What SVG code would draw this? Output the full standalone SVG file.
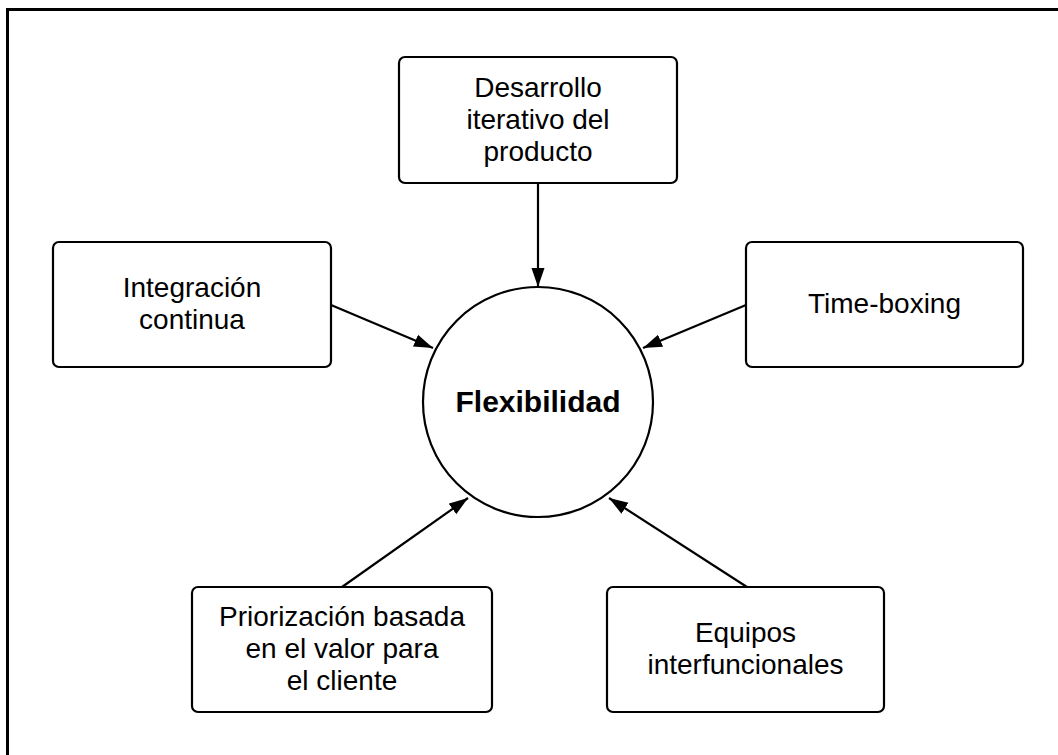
<svg xmlns="http://www.w3.org/2000/svg" width="1058" height="755" viewBox="0 0 1058 755">
  <style>
    .box { fill: #ffffff; stroke: #000000; stroke-width: 2.2; }
    .lbl { font-family: "Liberation Sans", Arial, sans-serif; font-size: 28px; fill: #000000; text-anchor: middle; }
    .title { font-family: "Liberation Sans", Arial, sans-serif; font-size: 30px; font-weight: bold; fill: #000000; text-anchor: middle; }
    .edge { stroke: #000000; stroke-width: 2.2; fill: none; marker-end: url(#arrow); }
  </style>
  <defs>
    <marker id="arrow" markerUnits="userSpaceOnUse" markerWidth="20" markerHeight="14" refX="19" refY="7" orient="auto">
      <path d="M0,0.5 L19,7 L0,13.5 Z" fill="#000000"/>
    </marker>
  </defs>
  <rect x="0" y="0" width="1058" height="755" fill="#ffffff"/>
  <rect x="7.5" y="9.5" width="1100" height="800" fill="none" stroke="#000000" stroke-width="3"/>

  <g id="connectors">
    <line class="edge" x1="538" y1="183" x2="538" y2="287"/>
    <line class="edge" x1="331" y1="305" x2="433" y2="348"/>
    <line class="edge" x1="746" y1="305" x2="643" y2="348"/>
    <line class="edge" x1="342" y1="587" x2="468" y2="498"/>
    <line class="edge" x1="747" y1="587" x2="609" y2="498"/>
  </g>

  <g id="center">
    <circle cx="538" cy="402" r="115" fill="#ffffff" stroke="#000000" stroke-width="2.2"/>
    <text class="title" x="538" y="412">Flexibilidad</text>
  </g>

  <g id="desarrollo">
    <rect class="box" x="399" y="57" width="278" height="126" rx="6"/>
    <text class="lbl" x="538" y="97">Desarrollo</text>
    <text class="lbl" x="538" y="129">iterativo del</text>
    <text class="lbl" x="538" y="161">producto</text>
  </g>

  <g id="integracion">
    <rect class="box" x="53" y="242" width="278" height="125" rx="6"/>
    <text class="lbl" x="192" y="297">Integración</text>
    <text class="lbl" x="192" y="329">continua</text>
  </g>

  <g id="timeboxing">
    <rect class="box" x="746" y="242" width="277" height="125" rx="6"/>
    <text class="lbl" x="884.5" y="313">Time-boxing</text>
  </g>

  <g id="priorizacion">
    <rect class="box" x="192" y="587" width="300" height="125" rx="6"/>
    <text class="lbl" x="342" y="626">Priorización basada</text>
    <text class="lbl" x="342" y="658">en el valor para</text>
    <text class="lbl" x="342" y="690">el cliente</text>
  </g>

  <g id="equipos">
    <rect class="box" x="607" y="587" width="277" height="125" rx="6"/>
    <text class="lbl" x="745.5" y="642">Equipos</text>
    <text class="lbl" x="745.5" y="674">interfuncionales</text>
  </g>
</svg>
